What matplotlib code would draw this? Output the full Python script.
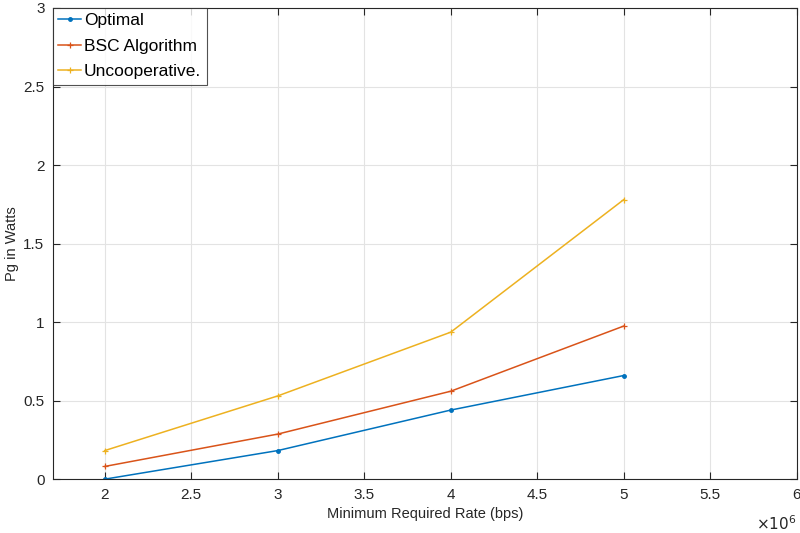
import numpy as np
import matplotlib.pyplot as plt

plt.rcParams['font.family'] = ['Liberation Sans', 'DejaVu Sans']

# data (rate in bps, power in watts)
rate = [2e6, 3e6, 4e6, 5e6]
optimal = [0.0, 0.182, 0.44, 0.66]
bsc = [0.081, 0.287, 0.56, 0.975]
uncoop = [0.182, 0.53, 0.936, 1.78]

xticks = [2e6, 2.5e6, 3e6, 3.5e6, 4e6, 4.5e6, 5e6, 5.5e6, 6e6]
xtick_labels = ['2', '2.5', '3', '3.5', '4', '4.5', '5', '5.5', '6']
yticks = [0, 0.5, 1, 1.5, 2, 2.5, 3]
ytick_labels = ['0', '0.5', '1', '1.5', '2', '2.5', '3']

fig = plt.figure(figsize=(8, 5.33), dpi=100)
ax = fig.add_axes([0.066, 0.101, 0.93, 0.884])

ax.plot(rate, optimal, color='#0072BD', lw=1.1, marker='.', ms=5, label='Optimal')
ax.plot(rate, bsc, color='#D95319', lw=1.1, marker='+', ms=4, mew=0.9, label='BSC Algorithm')
ax.plot(rate, uncoop, color='#EDB120', lw=1.1, marker='+', ms=4, mew=0.9, label='Uncooperative.')

ax.set_xlim(1.7e6, 6e6)
ax.set_ylim(0, 3)
ax.set_xticks(xticks)
ax.set_xticklabels(xtick_labels)
ax.set_yticks(yticks)
ax.set_yticklabels(ytick_labels)
ax.grid(True, color='#e3e3e3', lw=0.8)
ax.set_axisbelow(True)
ax.tick_params(direction='in', top=True, right=True, length=5, width=0.8,
               labelsize=11, colors='#262626', pad=6)
for s in ax.spines.values():
    s.set_color('#262626')
    s.set_linewidth(0.8)

ax.set_xlabel('Minimum Required Rate (bps)', fontsize=10.5, color='#262626', labelpad=4)
ax.set_ylabel('Pg in Watts', fontsize=10.5, color='#262626')
ax.yaxis.set_label_coords(-0.045, 0.5)
ax.text(1.0, -0.095, r'$\times10^{6}$', transform=ax.transAxes, ha='right', va='center',
        fontsize=11, color='#262626')

leg = ax.legend(loc='upper left', frameon=True, fancybox=False, fontsize=12.5,
                borderaxespad=0, handlelength=1.35, handletextpad=0.15,
                borderpad=0.3, labelspacing=0.6)
leg.get_frame().set_edgecolor('#262626')
leg.get_frame().set_linewidth(0.8)

fig.savefig('out.png', dpi=100)
